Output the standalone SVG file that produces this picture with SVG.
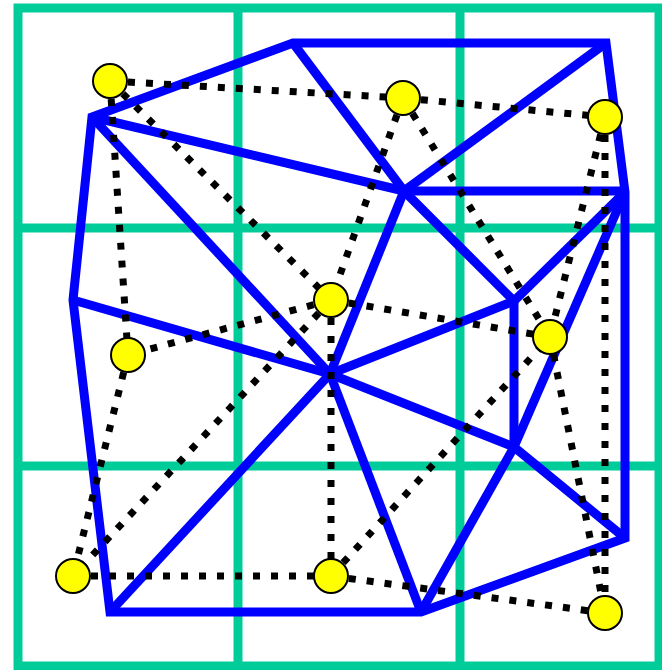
<svg xmlns="http://www.w3.org/2000/svg" width="662" height="670" viewBox="0 0 662 670">
<style>
.grid{stroke:#00CC99;stroke-width:9;fill:none}
.blue{stroke:#0000FF;stroke-width:9;fill:none;stroke-linejoin:miter}
.dot{stroke:#000;stroke-width:7;stroke-dasharray:7 11;fill:none}
.node{fill:#FFFF00;stroke:#000;stroke-width:2}
</style>
<rect width="662" height="670" fill="#fff"/>
<g id="grid" class="grid">
<rect x="18" y="8" width="641" height="658"/>
<line x1="238" y1="8" x2="238" y2="666"/>
<line x1="460" y1="8" x2="460" y2="666"/>
<line x1="18" y1="228" x2="659" y2="228"/>
<line x1="18" y1="466" x2="659" y2="466"/>
</g>
<g id="mesh" class="blue">
<polygon points="293,43 606,43 625,192 625,538 421,612 110,612 73,300 92,117"/>
<line x1="293" y1="43" x2="404" y2="191"/>
<line x1="606" y1="43" x2="404" y2="191"/>
<line x1="92" y1="117" x2="404" y2="191"/>
<line x1="404" y1="191" x2="625" y2="191"/>
<line x1="92" y1="117" x2="330" y2="374"/>
<line x1="73" y1="300" x2="330" y2="374"/>
<line x1="404" y1="191" x2="330" y2="374"/>
<line x1="404" y1="191" x2="514" y2="301"/>
<line x1="625" y1="192" x2="514" y2="301"/>
<line x1="625" y1="192" x2="514" y2="447"/>
<line x1="514" y1="301" x2="330" y2="374"/>
<line x1="514" y1="301" x2="514" y2="447"/>
<line x1="330" y1="374" x2="514" y2="447"/>
<line x1="514" y1="447" x2="625" y2="538"/>
<line x1="330" y1="374" x2="110" y2="612"/>
<line x1="330" y1="374" x2="421" y2="612"/>
<line x1="421" y1="612" x2="514" y2="447"/>
</g>
<g id="connectors" class="dot">
<line x1="110" y1="81" x2="403" y2="98"/>
<line x1="403" y1="98" x2="605" y2="117"/>
<line x1="110" y1="81" x2="128" y2="355"/>
<line x1="110" y1="81" x2="331" y2="300"/>
<line x1="403" y1="98" x2="331" y2="300"/>
<line x1="403" y1="98" x2="550" y2="337"/>
<line x1="605" y1="117" x2="550" y2="337"/>
<line x1="605" y1="117" x2="605" y2="613"/>
<line x1="331" y1="300" x2="128" y2="355"/>
<line x1="331" y1="300" x2="550" y2="337"/>
<line x1="331" y1="300" x2="73" y2="576"/>
<line x1="331" y1="300" x2="331" y2="576"/>
<line x1="128" y1="355" x2="73" y2="576"/>
<line x1="73" y1="576" x2="331" y2="576"/>
<line x1="331" y1="576" x2="550" y2="337"/>
<line x1="331" y1="576" x2="605" y2="613"/>
<line x1="550" y1="337" x2="605" y2="613"/>
</g>
<g id="n1"><circle class="node" cx="110" cy="81" r="17"/></g>
<g id="n2"><circle class="node" cx="403" cy="98" r="17"/></g>
<g id="n3"><circle class="node" cx="605" cy="117" r="17"/></g>
<g id="n4"><circle class="node" cx="331" cy="300" r="17"/></g>
<g id="n5"><circle class="node" cx="128" cy="355" r="17"/></g>
<g id="n6"><circle class="node" cx="550" cy="337" r="17"/></g>
<g id="n7"><circle class="node" cx="73" cy="576" r="17"/></g>
<g id="n8"><circle class="node" cx="331" cy="576" r="17"/></g>
<g id="n9"><circle class="node" cx="605" cy="613" r="17"/></g>
</svg>
